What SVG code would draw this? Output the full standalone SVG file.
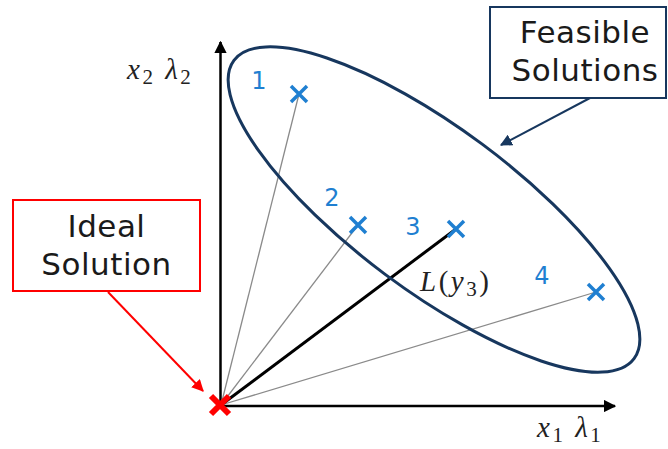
<svg xmlns="http://www.w3.org/2000/svg" width="668" height="449" viewBox="0 0 668 449">
<defs>
<style>
.lbl{font-family:"DejaVu Sans",Verdana,sans-serif;font-size:31px;fill:#1a1a1a;text-anchor:middle;letter-spacing:0.5px}
.num{font-family:"DejaVu Sans",Verdana,sans-serif;font-size:24px;fill:#1f7fd1;text-anchor:middle}
.math{font-family:"Liberation Serif","DejaVu Serif",serif;font-size:29px;fill:#222;letter-spacing:2.5px}
.it{font-style:italic}
.sub{font-size:21px}
.mk{stroke:#1f7fd1;stroke-width:3.5;fill:none}
.ray{stroke:#8a8a8a;stroke-width:1.3;fill:none}
</style>
<marker id="ah" viewBox="0 0 10 10" refX="9" refY="5" markerWidth="5" markerHeight="5" orient="auto" markerUnits="strokeWidth"><path d="M0,0 L10,5 L0,10 z" fill="#000"/></marker>
<marker id="ahr" viewBox="0 0 10 10" refX="9" refY="5" markerWidth="6" markerHeight="6" orient="auto" markerUnits="strokeWidth"><path d="M0,0 L10,5 L0,10 z" fill="#ff0000"/></marker>
<marker id="ahb" viewBox="0 0 10 10" refX="9" refY="5" markerWidth="6" markerHeight="6" orient="auto" markerUnits="strokeWidth"><path d="M0,0 L10,5 L0,10 z" fill="#17375e"/></marker>
</defs>
<rect width="668" height="449" fill="#fff"/>
<g id="connectors">
<line x1="220.5" y1="406" x2="220.5" y2="42" stroke="#000" stroke-width="2.5" marker-end="url(#ah)"/>
<line x1="220" y1="406" x2="615" y2="406" stroke="#000" stroke-width="2.5" marker-end="url(#ah)"/>
<line class="ray" x1="221" y1="405" x2="299" y2="94"/>
<line class="ray" x1="221" y1="405" x2="358" y2="225"/>
<line class="ray" x1="221" y1="405" x2="596" y2="292"/>
<line x1="221" y1="405" x2="456" y2="229" stroke="#000" stroke-width="3"/>
<line x1="108" y1="292" x2="203" y2="391" stroke="#ff0000" stroke-width="2" marker-end="url(#ahr)"/>
<line x1="590" y1="98" x2="501" y2="145" stroke="#17375e" stroke-width="2" marker-end="url(#ahb)"/>
</g>
<g id="feasible-region">
<ellipse cx="434" cy="209.5" rx="249.5" ry="81.2" transform="rotate(36.7 434 209.5)" fill="none" stroke="#17375e" stroke-width="3"/>
</g>
<g id="ideal-solution">
<rect x="13" y="200" width="187" height="91" fill="#fff" stroke="#ff0000" stroke-width="2"/>
<text class="lbl" x="106.5" y="237">Ideal</text>
<text class="lbl" x="106.5" y="275">Solution</text>
</g>
<g id="feasible-solutions">
<rect x="490" y="7" width="176" height="91" fill="#fff" stroke="#17375e" stroke-width="2"/>
<text class="lbl" x="585" y="43">Feasible</text>
<text class="lbl" x="585" y="81">Solutions</text>
</g>
<g id="ideal-point">
<path d="M211,396 L229,414 M229,396 L211,414" stroke="#ff0000" stroke-width="6" fill="none"/>
</g>
<g id="p1"><path class="mk" d="M291,86 L307,102 M307,86 L291,102"/><text class="num" x="259" y="89">1</text></g>
<g id="p2"><path class="mk" d="M350,217 L366,233 M366,217 L350,233"/><text class="num" x="332" y="206">2</text></g>
<g id="p3"><path class="mk" d="M448,221 L464,237 M464,221 L448,237"/><text class="num" x="413" y="235">3</text></g>
<g id="p4"><path class="mk" d="M588,284 L604,300 M604,284 L588,300"/><text class="num" x="542" y="284">4</text></g>
<g id="axis-labels">
<text class="math" x="127" y="79"><tspan class="it">x</tspan><tspan class="sub" dy="5">2</tspan><tspan dy="-5"> </tspan><tspan class="it">λ</tspan><tspan class="sub" dy="5">2</tspan></text>
<text class="math" x="537" y="437"><tspan class="it">x</tspan><tspan class="sub" dy="5">1</tspan><tspan dy="-5"> </tspan><tspan class="it">λ</tspan><tspan class="sub" dy="5">1</tspan></text>
<text class="math" x="420" y="291"><tspan class="it">L</tspan>(<tspan class="it">y</tspan><tspan class="sub" dy="5">3</tspan><tspan dy="-5">)</tspan></text>
</g>
</svg>
